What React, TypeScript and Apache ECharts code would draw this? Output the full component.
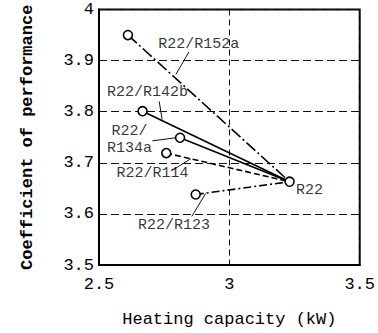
import React, { useEffect, useRef } from "react";
import * as echarts from "echarts";

const mixtures = ["R22/R152a", "R22/R142b", "R22/R134a", "R22/R114", "R22/R123"];
const mixCapacity = [2.611, 2.667, 2.811, 2.758, 2.871];
const mixCop = [3.95, 3.801, 3.749, 3.719, 3.638];
const mixLineType: (number[] | string)[] = [[12, 3, 2, 3], "solid", "solid", [6, 3], [8, 3, 2, 3]];
const baseName = "R22";
const baseCapacity = 3.231;
const baseCop = 3.663;

const labelTexts = ["R22/R152a", "R22/R142b", "R22/\nR134a", "R22/R114", "R22/R123", "R22"];
const labelX = [2.883, 2.686, 2.617, 2.705, 2.788, 3.307];
const labelY = [3.931, 3.838, 3.745, 3.679, 3.578, 3.646];

const leaderFrom = [[2.845, 3.917], [2.731, 3.82], [2.705, 3.743], [2.777, 3.684], [2.856, 3.595]];
const leaderTo = [[2.795, 3.873], [2.742, 3.785], [2.795, 3.749], [2.852, 3.708], [2.909, 3.64]];

const yTicks = [3.5, 3.6, 3.7, 3.8, 3.9, 4];
const xTicks = [2.5, 3, 3.5];

const FONT = "'Liberation Mono', 'DejaVu Sans Mono', monospace";

export default function App() {
  const ref = useRef<HTMLDivElement>(null);
  useEffect(() => {
    if (!ref.current) return;
    const chart = echarts.init(ref.current, null, { renderer: "svg" });
    const series: any[] = [];
    mixtures.forEach((m, i) => {
      series.push({
        type: "line",
        name: m,
        data: [[mixCapacity[i], mixCop[i]], [baseCapacity, baseCop]],
        symbol: "none",
        lineStyle: { color: "#000", width: 1.6, type: mixLineType[i] },
        z: 3,
      });
    });
    leaderFrom.forEach((p, i) => {
      series.push({
        type: "line",
        data: [p, leaderTo[i]],
        symbol: "none",
        lineStyle: { color: "#111", width: 1 },
        z: 3,
      });
    });
    series.push({
      type: "scatter",
      name: baseName,
      data: [...mixCapacity.map((x, i) => [x, mixCop[i]]), [baseCapacity, baseCop]],
      symbol: "circle",
      symbolSize: 9,
      itemStyle: { color: "#fff", borderColor: "#000", borderWidth: 1.6, opacity: 1 },
      z: 5,
    });
    series.push({
      type: "scatter",
      data: labelTexts.map((t, i) => ({ value: [labelX[i], labelY[i]], name: t })),
      symbolSize: 0,
      label: {
        show: true,
        position: "inside",
        formatter: (p: any) => p.name,
        fontFamily: FONT,
        fontSize: 15,
        color: "#000",
        lineHeight: 17,
        align: "center",
      },
      z: 6,
    });
    chart.setOption({
      animation: false,
      backgroundColor: "#fff",
      grid: {
        left: 99,
        right: 15,
        top: 9.5,
        bottom: 66,
        show: true,
        borderColor: "#000",
        borderWidth: 2,
      },
      xAxis: {
        type: "value",
        min: 2.5,
        max: 3.5,
        interval: 0.5,
        name: "Heating capacity (kW)",
        nameLocation: "middle",
        nameGap: 46,
        nameTextStyle: { fontFamily: FONT, fontSize: 17, color: "#000" },
        axisLine: { show: true, lineStyle: { color: "#000", width: 2 } },
        axisTick: { show: false },
        axisLabel: {
          fontFamily: FONT,
          fontSize: 17,
          color: "#000",
          margin: 11,
          formatter: (v: number) => (xTicks.includes(v) ? String(v) : ""),
        },
        splitLine: { show: true, lineStyle: { color: "#111", width: 1, type: [6, 4] } },
      },
      yAxis: {
        type: "value",
        min: 3.5,
        max: 4,
        interval: 0.1,
        name: "Coefficient of performance",
        nameLocation: "middle",
        nameGap: 63,
        nameTextStyle: { fontFamily: FONT, fontSize: 17, color: "#000", fontWeight: "bold" },
        axisLine: { show: true, lineStyle: { color: "#000", width: 2 } },
        axisTick: { show: false },
        axisLabel: {
          fontFamily: FONT,
          fontSize: 17,
          color: "#000",
          margin: 5,
          formatter: (v: number) => {
            const t = yTicks.find((y) => Math.abs(y - v) < 1e-6);
            if (t === undefined) return "";
            return t === 4 ? "4" : t.toFixed(1);
          },
        },
        splitLine: { show: true, lineStyle: { color: "#111", width: 1.2, type: [8, 4] } },
      },
      series,
    });
    return () => chart.dispose();
  }, []);
  return (
    <div
      ref={ref}
      style={{ position: "fixed", left: 0, top: 0, width: 378, height: 333, background: "#fff" }}
    />
  );
}
